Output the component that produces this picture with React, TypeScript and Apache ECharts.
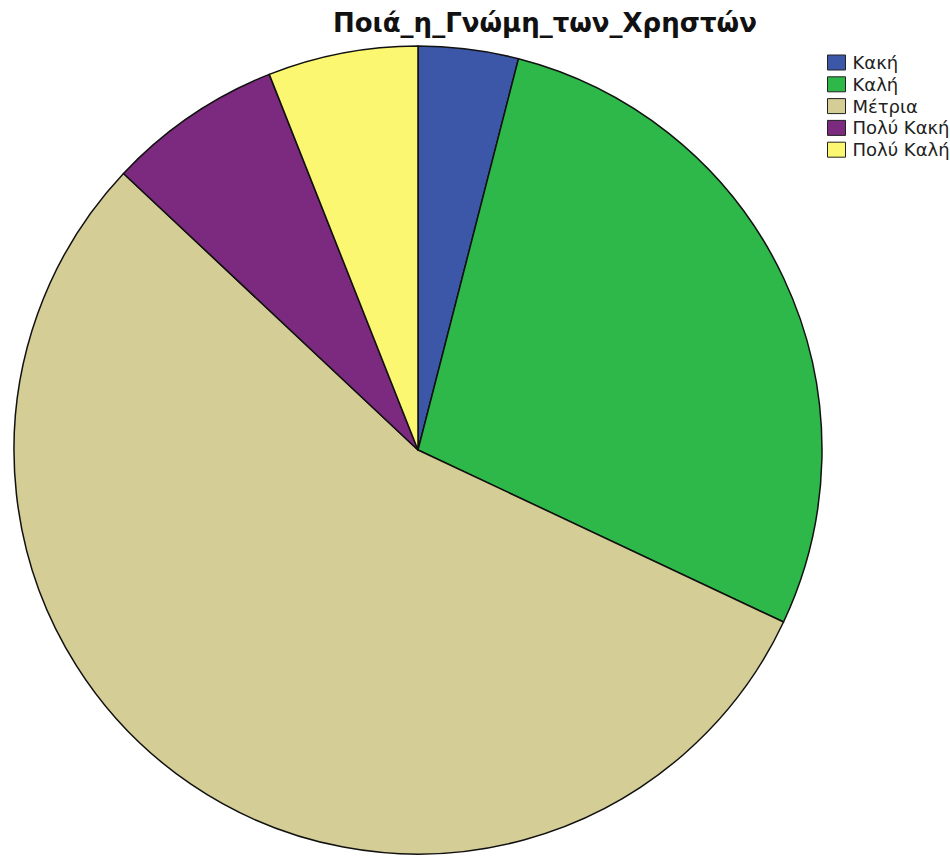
import React, { useEffect, useRef } from "react";
import * as echarts from "echarts";

const titleText = "Ποιά_η_Γνώμη_των_Χρηστών";
const categories = ["Κακή", "Καλή", "Μέτρια", "Πολύ Κακή", "Πολύ Καλή"];
const values = [4, 28, 55, 7, 6];
const colors = ["#3C56A8", "#2EB84A", "#D4CD95", "#7B2A7F", "#FBF771"];

export default function App() {
  const ref = useRef<HTMLDivElement>(null);
  useEffect(() => {
    if (!ref.current) return;
    const chart = echarts.init(ref.current, undefined, { renderer: "svg" });
    chart.setOption({
      animation: false,
      backgroundColor: "#ffffff",
      title: {
        text: titleText,
        left: 333,
        top: 8,
        padding: 0,
        textStyle: {
          fontFamily: "DejaVu Sans",
          fontSize: 26,
          fontWeight: "bold",
          color: "#111111",
          lineHeight: 30,
        },
      },
      legend: {
        orient: "vertical",
        left: 827,
        top: 53.5,
        padding: 0,
        itemWidth: 18,
        itemHeight: 15,
        itemGap: 3.8,
        icon: "rect",
        data: categories,
        itemStyle: { borderColor: "#222222", borderWidth: 1 },
        textStyle: {
          fontFamily: "DejaVu Sans",
          fontSize: 18,
          lineHeight: 15,
          color: "#222222",
          padding: [0, 0, 0, 2],
        },
      },
      series: [
        {
          type: "pie",
          center: [418, 450],
          radius: 404,
          startAngle: 90,
          clockwise: true,
          label: { show: false },
          labelLine: { show: false },
          emphasis: { disabled: true },
          itemStyle: { borderColor: "#111111", borderWidth: 1.5 },
          data: categories.map((c, i) => ({
            name: c,
            value: values[i],
            itemStyle: { color: colors[i] },
          })),
        },
      ],
    });
    return () => chart.dispose();
  }, []);
  return (
    <div
      ref={ref}
      style={{ position: "fixed", left: 0, top: 0, width: 950, height: 857 }}
    />
  );
}
